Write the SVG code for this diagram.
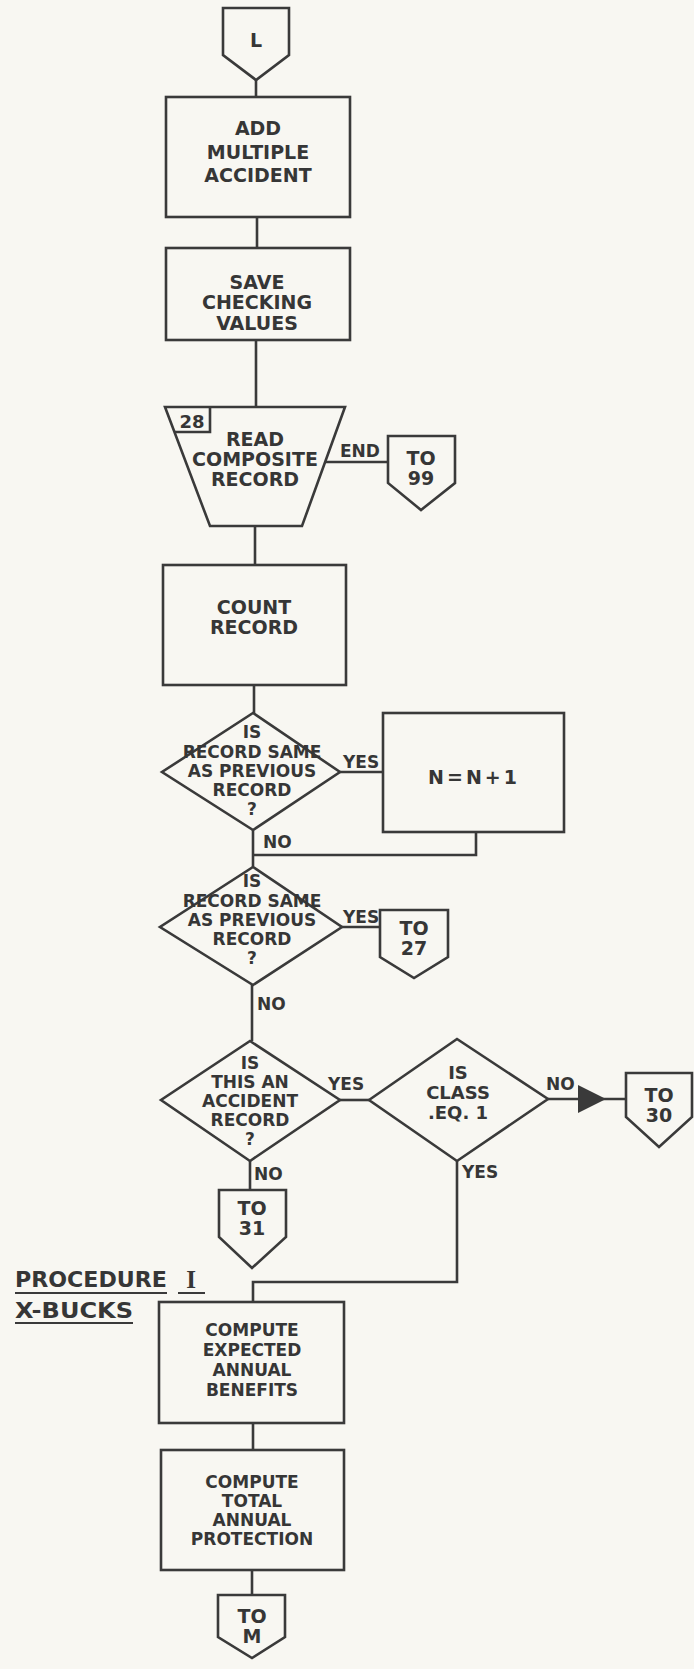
<svg xmlns="http://www.w3.org/2000/svg" width="694" height="1669" viewBox="0 0 694 1669">
<style>
.s{fill:none;stroke:#3a3a3a;stroke-width:2.6;stroke-linejoin:miter}
.t{font-family:"DejaVu Sans","Liberation Sans",Arial,sans-serif;font-weight:bold;fill:#363636;text-anchor:middle}
.l{font-family:"DejaVu Sans","Liberation Sans",Arial,sans-serif;font-weight:bold;fill:#363636;font-size:17px}
.b{font-size:19px}
.d{font-size:18px}
.e{font-size:17px}
</style>
<rect x="0" y="0" width="694" height="1669" fill="#f8f7f2"/>
<g id="connectors">
<path class="s" d="M256,80 V97"/>
<path class="s" d="M257,217 V248"/>
<path class="s" d="M256,340 V407"/>
<path class="s" d="M325,462 H388"/>
<path class="s" d="M255,526 V565"/>
<path class="s" d="M254,685 V713"/>
<path class="s" d="M340,772 H383"/>
<path class="s" d="M476,832 V855 H253"/>
<path class="s" d="M253,830 V867"/>
<path class="s" d="M342,927 H380"/>
<path class="s" d="M252,985 V1041"/>
<path class="s" d="M340,1100 H369"/>
<path class="s" d="M548,1099 H626"/>
<polygon points="578,1085 606,1099 578,1113" fill="#3a3a3a"/>
<path class="s" d="M457,1161 V1282 H253 V1302"/>
<path class="s" d="M250,1161 V1190"/>
<path class="s" d="M253,1423 V1450"/>
<path class="s" d="M252,1570 V1595"/>
<text class="l" x="340" y="457">END</text>
<text class="l" x="343" y="768">YES</text>
<text class="l" x="263" y="848">NO</text>
<text class="l" x="343" y="923">YES</text>
<text class="l" x="257" y="1010">NO</text>
<text class="l" x="328" y="1090">YES</text>
<text class="l" x="546" y="1090">NO</text>
<text class="l" x="462" y="1178">YES</text>
<text class="l" x="254" y="1180">NO</text>
</g>
<g id="start-L">
<polygon class="s" points="223,8 289,8 289,55 256,80 223,55"/>
<text class="t b" x="256" y="47">L</text>
</g>
<g id="add-multiple-accident">
<rect class="s" x="166" y="97" width="184" height="120"/>
<text class="t b" x="258" y="135">ADD</text>
<text class="t b" x="258" y="159">MULTIPLE</text>
<text class="t b" x="258" y="182">ACCIDENT</text>
</g>
<g id="save-checking-values">
<rect class="s" x="166" y="248" width="184" height="92"/>
<text class="t b" x="257" y="289">SAVE</text>
<text class="t b" x="257" y="309">CHECKING</text>
<text class="t b" x="257" y="330">VALUES</text>
</g>
<g id="read-composite-record">
<polygon class="s" points="165,407 345,407 302,526 210,526"/>
<path class="s" d="M210,407 V432 H174"/>
<text class="t d" x="192" y="428">28</text>
<text class="t b" x="255" y="446">READ</text>
<text class="t b" x="255" y="466">COMPOSITE</text>
<text class="t b" x="255" y="486">RECORD</text>
</g>
<g id="to-99">
<polygon class="s" points="388,436 455,436 455,483 421,510 388,483"/>
<text class="t b" x="421" y="465">TO</text>
<text class="t b" x="421" y="485">99</text>
</g>
<g id="count-record">
<rect class="s" x="163" y="565" width="183" height="120"/>
<text class="t b" x="254" y="614">COUNT</text>
<text class="t b" x="254" y="634">RECORD</text>
</g>
<g id="decision-same-1">
<polygon class="s" points="253,713 340,772 253,830 162,772"/>
<text class="t e" x="252" y="738">IS</text>
<text class="t e" x="252" y="758">RECORD SAME</text>
<text class="t e" x="252" y="777">AS PREVIOUS</text>
<text class="t e" x="252" y="796">RECORD</text>
<text class="t e" x="252" y="815">?</text>
</g>
<g id="n-increment">
<rect class="s" x="383" y="713" width="181" height="119"/>
<text class="t b" x="474" y="784" letter-spacing="3">N=N+1</text>
</g>
<g id="decision-same-2">
<polygon class="s" points="253,867 342,927 253,985 160,927"/>
<text class="t e" x="252" y="887">IS</text>
<text class="t e" x="252" y="907">RECORD SAME</text>
<text class="t e" x="252" y="926">AS PREVIOUS</text>
<text class="t e" x="252" y="945">RECORD</text>
<text class="t e" x="252" y="964">?</text>
</g>
<g id="to-27">
<polygon class="s" points="380,910 448,910 448,957 414,978 380,957"/>
<text class="t b" x="414" y="935">TO</text>
<text class="t b" x="414" y="955">27</text>
</g>
<g id="decision-accident">
<polygon class="s" points="250,1041 340,1100 250,1161 161,1100"/>
<text class="t e" x="250" y="1069">IS</text>
<text class="t e" x="250" y="1088">THIS AN</text>
<text class="t e" x="250" y="1107">ACCIDENT</text>
<text class="t e" x="250" y="1126">RECORD</text>
<text class="t e" x="250" y="1145">?</text>
</g>
<g id="decision-class">
<polygon class="s" points="369,1100 457,1039 548,1099 457,1161"/>
<text class="t d" x="458" y="1079">IS</text>
<text class="t d" x="458" y="1099">CLASS</text>
<text class="t d" x="458" y="1119">.EQ. 1</text>
</g>
<g id="to-30">
<polygon class="s" points="626,1073 692,1073 692,1117 659,1147 626,1117"/>
<text class="t b" x="659" y="1102">TO</text>
<text class="t b" x="659" y="1122">30</text>
</g>
<g id="to-31">
<polygon class="s" points="219,1190 286,1190 286,1237 252,1268 219,1237"/>
<text class="t b" x="252" y="1215">TO</text>
<text class="t b" x="252" y="1235">31</text>
</g>
<g id="procedure-label">
<text class="l" x="15" y="1287" style="font-size:22px" textLength="152" lengthAdjust="spacingAndGlyphs">PROCEDURE</text>
<text x="191" y="1288" style="font-family:'Liberation Serif','Times New Roman',serif;font-weight:bold;font-size:25px;fill:#363636;text-anchor:middle">I</text>
<text class="l" x="15" y="1318" style="font-size:22px" textLength="118" lengthAdjust="spacingAndGlyphs">X-BUCKS</text>
<path class="s" d="M15,1293 H167 M178,1293 H205 M15,1323 H133" style="stroke-width:2"/>
</g>
<g id="compute-benefits">
<rect class="s" x="159" y="1302" width="185" height="121"/>
<text class="t e" x="252" y="1336">COMPUTE</text>
<text class="t e" x="252" y="1356">EXPECTED</text>
<text class="t e" x="252" y="1376">ANNUAL</text>
<text class="t e" x="252" y="1396">BENEFITS</text>
</g>
<g id="compute-protection">
<rect class="s" x="161" y="1450" width="183" height="120"/>
<text class="t e" x="252" y="1488">COMPUTE</text>
<text class="t e" x="252" y="1507">TOTAL</text>
<text class="t e" x="252" y="1526">ANNUAL</text>
<text class="t e" x="252" y="1545">PROTECTION</text>
</g>
<g id="to-M">
<polygon class="s" points="218,1595 285,1595 285,1637 252,1658 218,1637"/>
<text class="t b" x="252" y="1623">TO</text>
<text class="t b" x="252" y="1643">M</text>
</g>
</svg>
